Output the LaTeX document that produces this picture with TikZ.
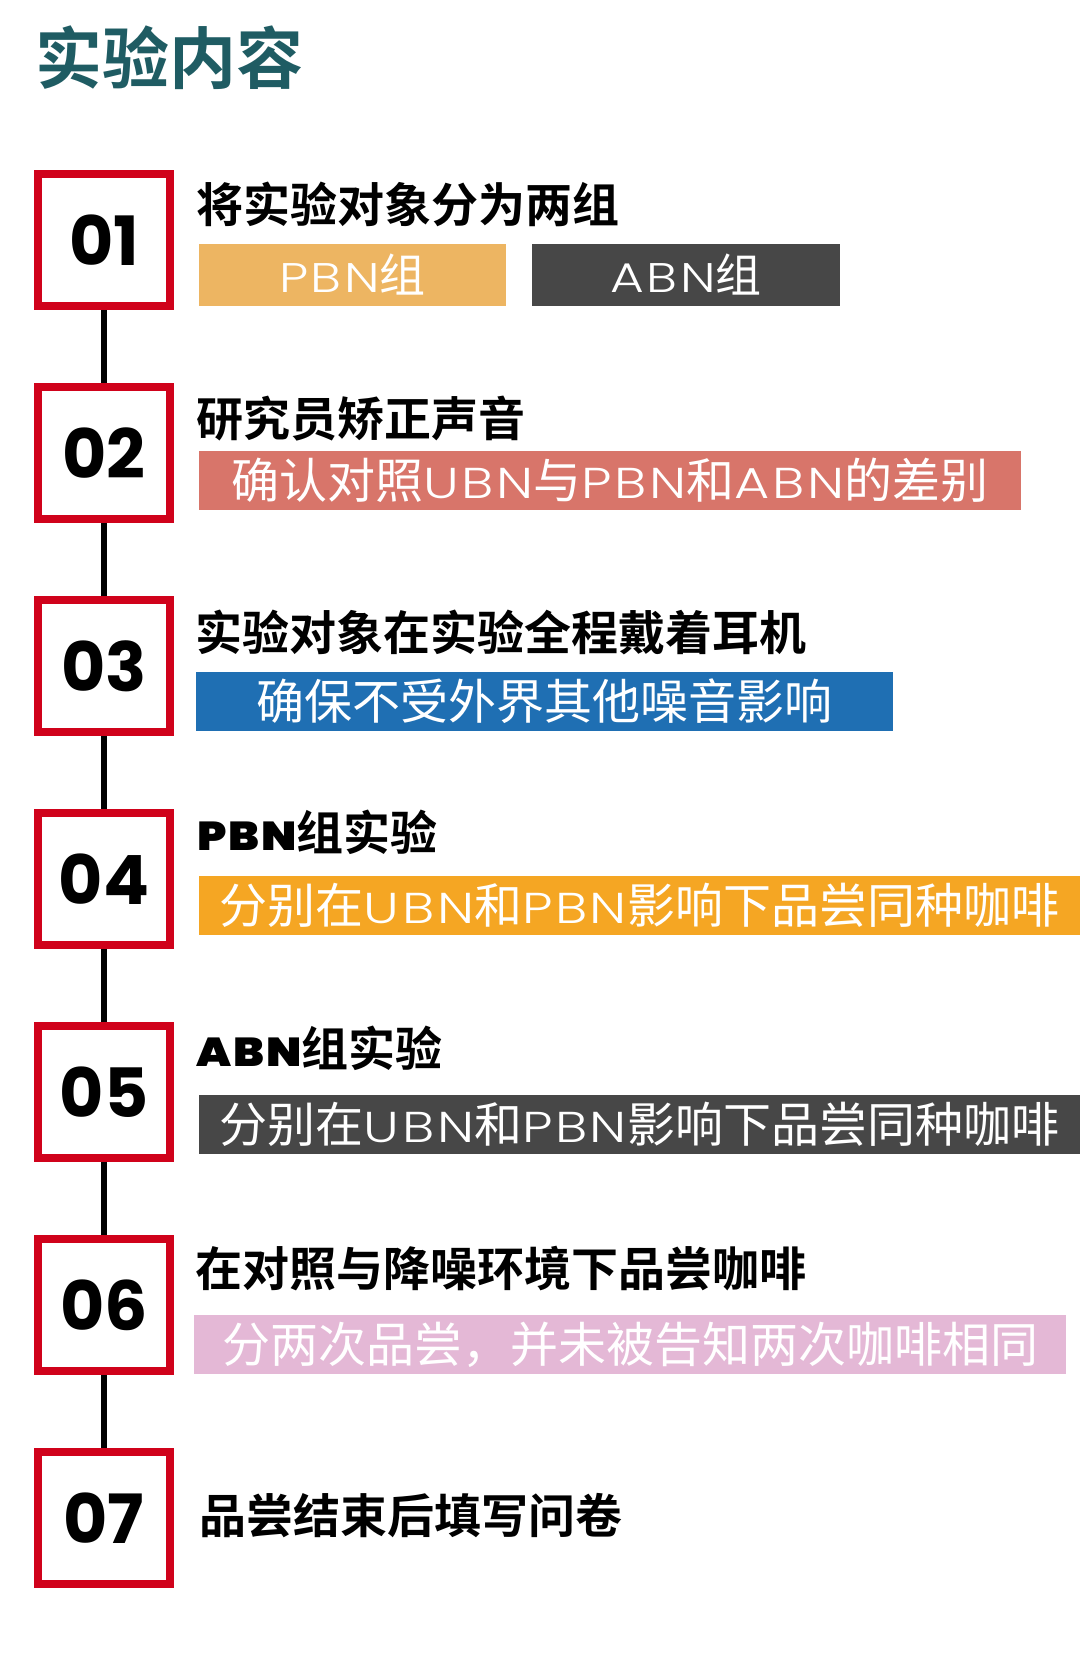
\documentclass[tikz,border=0pt]{standalone}
\usepackage{fontspec}
\setmainfont{Noto Sans CJK SC}[BoldFont={Noto Sans CJK SC Bold}]
\newfontfamily\numfont{Poppins}[UprightFont=* Bold]
\newfontfamily\geo{Poppins}[UprightFont=* SemiBold, Scale=0.86, FakeStretch=1.12, LetterSpace=5]
\newfontfamily\geolight{Poppins}[UprightFont=* Light, Scale=0.9, FakeStretch=1.25, LetterSpace=6]
\newcommand\engl[1]{{\geolight #1}}
\newcommand\englb[1]{{\geo #1}}
\definecolor{titleteal}{HTML}{1F5C63}
\definecolor{boxred}{HTML}{D0021B}
\definecolor{pbnyellow}{HTML}{EDB562}
\definecolor{abngray}{HTML}{474747}
\definecolor{salmon}{HTML}{D8756A}
\definecolor{plainblue}{HTML}{1F6FB3}
\definecolor{pbnorange}{HTML}{F5A623}
\definecolor{softpink}{HTML}{E4B8D6}
\begin{document}
\begin{tikzpicture}[x=1pt,y=-1pt]
    \tikzset{stepno/.style = {draw=boxred, line width=8pt, fill=white, minimum size=132pt, inner sep=0pt, font=\numfont\fontsize{68}{68}\selectfont}}
    \tikzset{head/.style = {anchor=base west, inner sep=0pt, font=\bfseries\fontsize{47}{47}\selectfont}}
    \tikzset{bar/.style = {fill=#1, text=white, inner sep=0pt, minimum height=59pt, font=\fontsize{48}{48}\selectfont}}
    \tikzset{link/.style = {line width=6pt}}
    \useasboundingbox (0,0) rectangle (1080,1662);
    \node[anchor=base west, inner sep=0pt, text=titleteal, font=\bfseries\fontsize{67}{67}\selectfont] (title) at (35,84) {实验内容};
    \node[stepno] (s1) at (104,240) {01};
    \node[stepno] (s2) at (104,453) {02};
    \node[stepno] (s3) at (104,666) {03};
    \node[stepno] (s4) at (104,879) {04};
    \node[stepno] (s5) at (104,1092) {05};
    \node[stepno] (s6) at (104,1305) {06};
    \node[stepno] (s7) at (104,1518) {07};
    \node[head] (h1) at (196,222) {将实验对象分为两组};
    \node[head] (h2) at (196,436) {研究员矫正声音};
    \node[head] (h3) at (195,650) {实验对象在实验全程戴着耳机};
    \node[head] (h4) at (197,850) {\englb{PBN}组实验};
    \node[head] (h5) at (196,1066) {\englb{ABN}组实验};
    \node[head] (h6) at (195,1286) {在对照与降噪环境下品尝咖啡};
    \node[head] (h7) at (199,1533) {品尝结束后填写问卷};
    \node[bar=pbnyellow, minimum width=307pt, minimum height=62pt, font=\fontsize{46}{46}\selectfont] (pbn) at (352.5,275) {\engl{PBN}组};
    \node[bar=abngray, minimum width=308pt, minimum height=62pt, font=\fontsize{46}{46}\selectfont] (abn) at (686,275) {\engl{ABN}组};
    \node[bar=salmon, minimum width=822pt] (b2) at (610,480.5) {确认对照\engl{UBN}与\engl{PBN}和\engl{ABN}的差别};
    \node[bar=plainblue, minimum width=697pt] (b3) at (544.5,701.5) {确保不受外界其他噪音影响};
    \node[bar=pbnorange, minimum width=881pt] (b4) at (639.5,905.5) {分别在\engl{UBN}和\engl{PBN}影响下品尝同种咖啡};
    \node[bar=abngray, minimum width=881pt] (b5) at (639.5,1124.5) {分别在\engl{UBN}和\engl{PBN}影响下品尝同种咖啡};
    \node[bar=softpink, minimum width=872pt] (b6) at (630,1344.5) {分两次品尝，并未被告知两次咖啡相同};
    \draw[link] (s1) -- (s2);
    \draw[link] (s2) -- (s3);
    \draw[link] (s3) -- (s4);
    \draw[link] (s4) -- (s5);
    \draw[link] (s5) -- (s6);
    \draw[link] (s6) -- (s7);
\end{tikzpicture}
\end{document}
